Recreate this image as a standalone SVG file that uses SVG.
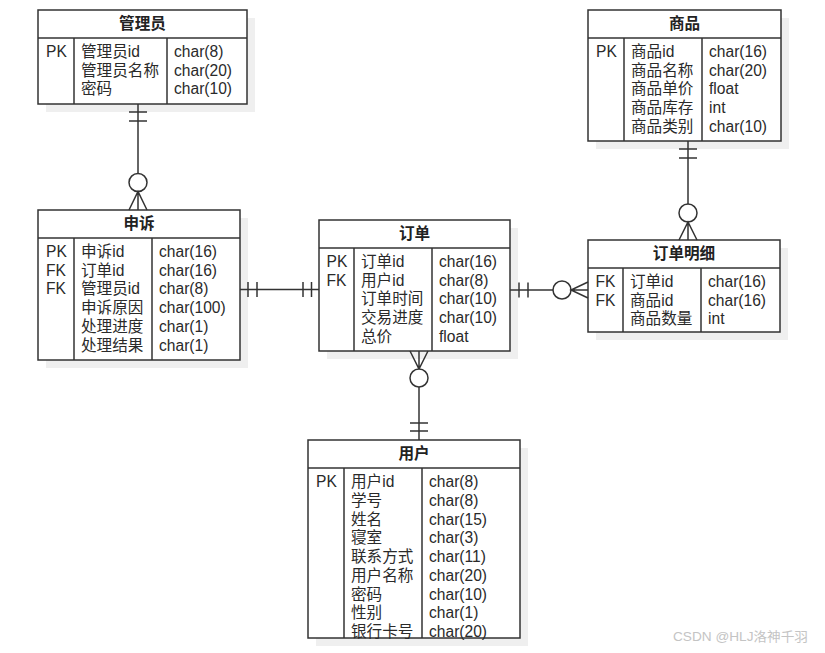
<svg xmlns="http://www.w3.org/2000/svg" width="825" height="653" viewBox="0 0 825 653">
<style>
.shadow{fill:#efefef;stroke:none}
.box{fill:#ffffff;stroke:#333333;stroke-width:1.5}
.ln{fill:none;stroke:#333333;stroke-width:1.5}
.title{font-family:"Liberation Sans","Noto Sans CJK SC",sans-serif;font-size:15.6px;font-weight:bold;fill:#222222;text-anchor:middle}
.t{font-family:"Liberation Sans","Noto Sans CJK SC",sans-serif;font-size:15.6px;fill:#2a2a2a}
.wm{font-family:"Liberation Sans","Noto Sans CJK SC",sans-serif;font-size:13px;fill:#c4c4c4}
.c{fill:#ffffff;stroke:#333333;stroke-width:1.5}
</style>
<rect x="0" y="0" width="825" height="653" fill="#ffffff"/>

<g id="node-admin">
<rect class="shadow" x="46" y="18" width="209" height="94"/>
<rect class="box" x="38" y="10" width="209" height="94"/>
<line class="ln" x1="38" y1="38" x2="247" y2="38"/>
<line class="ln" x1="74" y1="38" x2="74" y2="104"/>
<line class="ln" x1="167" y1="38" x2="167" y2="104"/>
<text class="title" x="142.5" y="29">管理员</text>
<text class="t" x="46" y="57">PK</text>
<text class="t" x="81" y="57">管理员id</text>
<text class="t" x="81" y="75.7">管理员名称</text>
<text class="t" x="81" y="94.4">密码</text>
<text class="t" x="174" y="57">char(8)</text>
<text class="t" x="174" y="75.7">char(20)</text>
<text class="t" x="174" y="94.4">char(10)</text>
</g>

<g id="node-goods">
<rect class="shadow" x="596" y="18" width="193" height="131"/>
<rect class="box" x="588" y="10" width="193" height="131"/>
<line class="ln" x1="588" y1="38" x2="781" y2="38"/>
<line class="ln" x1="624" y1="38" x2="624" y2="141"/>
<line class="ln" x1="702" y1="38" x2="702" y2="141"/>
<text class="title" x="684.5" y="29">商品</text>
<text class="t" x="596" y="57">PK</text>
<text class="t" x="631" y="57">商品id</text>
<text class="t" x="631" y="75.7">商品名称</text>
<text class="t" x="631" y="94.4">商品单价</text>
<text class="t" x="631" y="113.1">商品库存</text>
<text class="t" x="631" y="131.8">商品类别</text>
<text class="t" x="709" y="57">char(16)</text>
<text class="t" x="709" y="75.7">char(20)</text>
<text class="t" x="709" y="94.4">float</text>
<text class="t" x="709" y="113.1">int</text>
<text class="t" x="709" y="131.8">char(10)</text>
</g>

<g id="node-appeal">
<rect class="shadow" x="46" y="218" width="202" height="150"/>
<rect class="box" x="38" y="210" width="202" height="150"/>
<line class="ln" x1="38" y1="238" x2="240" y2="238"/>
<line class="ln" x1="74" y1="238" x2="74" y2="360"/>
<line class="ln" x1="152" y1="238" x2="152" y2="360"/>
<text class="title" x="139" y="229">申诉</text>
<text class="t" x="46" y="257">PK</text>
<text class="t" x="46" y="275.7">FK</text>
<text class="t" x="46" y="294.4">FK</text>
<text class="t" x="81" y="257">申诉id</text>
<text class="t" x="81" y="275.7">订单id</text>
<text class="t" x="81" y="294.4">管理员id</text>
<text class="t" x="81" y="313.1">申诉原因</text>
<text class="t" x="81" y="331.8">处理进度</text>
<text class="t" x="81" y="350.5">处理结果</text>
<text class="t" x="159" y="257">char(16)</text>
<text class="t" x="159" y="275.7">char(16)</text>
<text class="t" x="159" y="294.4">char(8)</text>
<text class="t" x="159" y="313.1">char(100)</text>
<text class="t" x="159" y="331.8">char(1)</text>
<text class="t" x="159" y="350.5">char(1)</text>
</g>

<g id="node-order">
<rect class="shadow" x="327" y="228" width="191" height="131"/>
<rect class="box" x="319" y="220" width="191" height="131"/>
<line class="ln" x1="319" y1="248" x2="510" y2="248"/>
<line class="ln" x1="354" y1="248" x2="354" y2="351"/>
<line class="ln" x1="432" y1="248" x2="432" y2="351"/>
<text class="title" x="414.5" y="239">订单</text>
<text class="t" x="326.5" y="267">PK</text>
<text class="t" x="326.5" y="285.7">FK</text>
<text class="t" x="361" y="267">订单id</text>
<text class="t" x="361" y="285.7">用户id</text>
<text class="t" x="361" y="304.4">订单时间</text>
<text class="t" x="361" y="323.1">交易进度</text>
<text class="t" x="361" y="341.8">总价</text>
<text class="t" x="439" y="267">char(16)</text>
<text class="t" x="439" y="285.7">char(8)</text>
<text class="t" x="439" y="304.4">char(10)</text>
<text class="t" x="439" y="323.1">char(10)</text>
<text class="t" x="439" y="341.8">float</text>
</g>

<g id="node-orderdetail">
<rect class="shadow" x="596" y="248" width="192" height="92"/>
<rect class="box" x="588" y="240" width="192" height="92"/>
<line class="ln" x1="588" y1="268" x2="780" y2="268"/>
<line class="ln" x1="623" y1="268" x2="623" y2="332"/>
<line class="ln" x1="701" y1="268" x2="701" y2="332"/>
<text class="title" x="684" y="259">订单明细</text>
<text class="t" x="595.5" y="287">FK</text>
<text class="t" x="595.5" y="305.7">FK</text>
<text class="t" x="630" y="287">订单id</text>
<text class="t" x="630" y="305.7">商品id</text>
<text class="t" x="630" y="324.4">商品数量</text>
<text class="t" x="708" y="287">char(16)</text>
<text class="t" x="708" y="305.7">char(16)</text>
<text class="t" x="708" y="324.4">int</text>
</g>

<g id="node-user">
<rect class="shadow" x="316" y="448" width="212" height="198"/>
<rect class="box" x="308" y="440" width="212" height="198"/>
<line class="ln" x1="308" y1="468" x2="520" y2="468"/>
<line class="ln" x1="344" y1="468" x2="344" y2="638"/>
<line class="ln" x1="422" y1="468" x2="422" y2="638"/>
<text class="title" x="414" y="459">用户</text>
<text class="t" x="316" y="487.3">PK</text>
<text class="t" x="351" y="487.3">用户id</text>
<text class="t" x="351" y="506">学号</text>
<text class="t" x="351" y="524.7">姓名</text>
<text class="t" x="351" y="543.4">寝室</text>
<text class="t" x="351" y="562.1">联系方式</text>
<text class="t" x="351" y="580.8">用户名称</text>
<text class="t" x="351" y="599.5">密码</text>
<text class="t" x="351" y="618.2">性别</text>
<text class="t" x="351" y="636.9">银行卡号</text>
<text class="t" x="429" y="487.3">char(8)</text>
<text class="t" x="429" y="506">char(8)</text>
<text class="t" x="429" y="524.7">char(15)</text>
<text class="t" x="429" y="543.4">char(3)</text>
<text class="t" x="429" y="562.1">char(11)</text>
<text class="t" x="429" y="580.8">char(20)</text>
<text class="t" x="429" y="599.5">char(10)</text>
<text class="t" x="429" y="618.2">char(1)</text>
<text class="t" x="429" y="636.9">char(20)</text>
</g>

<g id="connectors">
<line class="ln" x1="138" y1="104" x2="138" y2="173.5"/>
<line class="ln" x1="129" y1="112" x2="147" y2="112"/>
<line class="ln" x1="129" y1="121" x2="147" y2="121"/>
<circle class="c" cx="138" cy="182.5" r="9"/>
<path class="ln" d="M129,210 L138,191.5 L147,210 M138,191.5 V210"/>
<line class="ln" x1="688" y1="141" x2="688" y2="204"/>
<line class="ln" x1="679" y1="149" x2="697" y2="149"/>
<line class="ln" x1="679" y1="158" x2="697" y2="158"/>
<circle class="c" cx="688" cy="213" r="9"/>
<path class="ln" d="M679,240 L688,222 L697,240 M688,222 V240"/>
<line class="ln" x1="240" y1="289.5" x2="319" y2="289.5"/>
<line class="ln" x1="248" y1="282" x2="248" y2="297"/>
<line class="ln" x1="257" y1="282" x2="257" y2="297"/>
<line class="ln" x1="303" y1="282" x2="303" y2="297"/>
<line class="ln" x1="311.5" y1="282" x2="311.5" y2="297"/>
<line class="ln" x1="510" y1="290" x2="553" y2="290"/>
<line class="ln" x1="519" y1="282.5" x2="519" y2="297.5"/>
<line class="ln" x1="528" y1="282.5" x2="528" y2="297.5"/>
<circle class="c" cx="562" cy="290" r="9"/>
<path class="ln" d="M588,282 L571,290 L588,298 M571,290 H588"/>
<path class="ln" d="M410,351 L419,369 L428,351 M419,351 V369"/>
<circle class="c" cx="419" cy="378" r="9"/>
<line class="ln" x1="419" y1="387" x2="419" y2="440"/>
<line class="ln" x1="410" y1="423" x2="428" y2="423"/>
<line class="ln" x1="410" y1="431" x2="428" y2="431"/>
</g>

<text class="wm" x="673" y="641" textLength="135" lengthAdjust="spacingAndGlyphs">CSDN @HLJ洛神千羽</text>
</svg>
